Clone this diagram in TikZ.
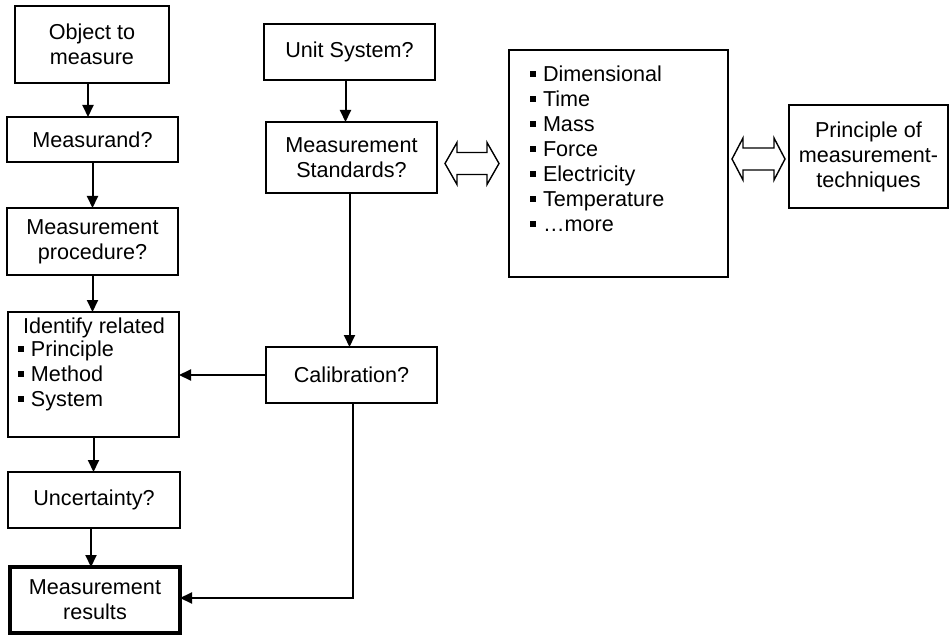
\documentclass[tikz,border=0pt]{standalone}
\usepackage{fontspec}
\setmainfont{Liberation Sans}
\usetikzlibrary{arrows.meta,calc}
\newcommand\bul{\raisebox{4.5pt}{\rule{6pt}{6pt}}\hspace{7pt}}
\begin{document}
\begin{tikzpicture}[x=1pt,y=-1pt,
  every node/.style={font=\fontsize{21.6}{25}\selectfont, inner sep=0pt, outer sep=0pt},
  box/.style={draw, line width=1.8pt, align=center},
  resbox/.style={draw, line width=4.5pt, align=center},
  conn/.style={line width=2pt, -{Triangle[length=12pt,width=11pt]}},
  dbl/.style={draw, line width=1.4pt, fill=white, line join=miter}]
\useasboundingbox (0,0) rectangle (950,636);
% left column
\node[box, minimum width=154, minimum height=77] (obj) at (92,44.5) {Object to\\measure};
\node[box, minimum width=171, minimum height=45] (msd) at (92.5,139.5) {Measurand?};
\node[box, minimum width=171, minimum height=67] (proc) at (92.5,241.5) {Measurement\\procedure?};
\node[box, minimum width=171, minimum height=125] (ident) at (93.5,374.5) {};
\node[anchor=base] (identt) at (94,333) {Identify related};
\node[anchor=north west, align=left] (identl) at (18,341) {\bul Principle\\\bul Method\\\bul System};
\node[box, minimum width=172, minimum height=56] (unc) at (94,500) {Uncertainty?};
\node[resbox, minimum width=170, minimum height=66] (res) at (95,600) {Measurement\\results};
% middle column
\node[box, minimum width=171, minimum height=56] (unit) at (349.5,52) {Unit System?};
\node[box, minimum width=171, minimum height=71] (std) at (351.5,157.5) {Measurement\\Standards?};
\node[box, minimum width=171, minimum height=56] (cal) at (351.5,375) {Calibration?};
% list box
\node[box, minimum width=219, minimum height=227] (list) at (618.5,163.5) {};
\node[anchor=north west, align=left] (listt) at (530,66)
  {\bul Dimensional\\\bul Time\\\bul Mass\\\bul Force\\\bul Electricity\\\bul Temperature\\\bul \dots more};
\node[box, minimum width=159, minimum height=103] (princ) at (868.5,156.5) {Principle of\\measurement-\\techniques};
% connectors
\draw[conn] ([xshift=-4]obj.south) -- ([xshift=-4]obj.south |- msd.north);
\draw[conn] (msd.south) -- (msd.south |- proc.north);
\draw[conn] (proc.south) -- (proc.south |- ident.north);
\draw[conn] (ident.south) -- (ident.south |- unc.north);
\draw[conn] ([xshift=-3]unc.south) -- ([xshift=-3]unc.south |- res.north);
\draw[conn] ([xshift=-4]unit.south) -- ([xshift=-4]unit.south |- std.north);
\draw[conn] ([xshift=-2]std.south) -- ([xshift=-2]std.south |- cal.north);
\draw[conn] (cal.west) -- (cal.west -| ident.east);
\draw[conn] ([xshift=1]cal.south) |- ([yshift=2]res.east);
% hollow double arrows
\coordinate (d1) at ($(std.east)+(8,6)$);
\draw[dbl] (d1) -- ++(12,-21) -- ++(0,10) -- ++(30,0) -- ++(0,-10) -- ++(12,21)
  -- ++(-12,21) -- ++(0,-10) -- ++(-30,0) -- ++(0,10) -- cycle;
\coordinate (d2) at ($(list.east)+(4,-4.5)$);
\draw[dbl] (d2) -- ++(11,-21) -- ++(0,10) -- ++(31,0) -- ++(0,-10) -- ++(11,21)
  -- ++(-11,21) -- ++(0,-10) -- ++(-31,0) -- ++(0,10) -- cycle;
\end{tikzpicture}
\end{document}
